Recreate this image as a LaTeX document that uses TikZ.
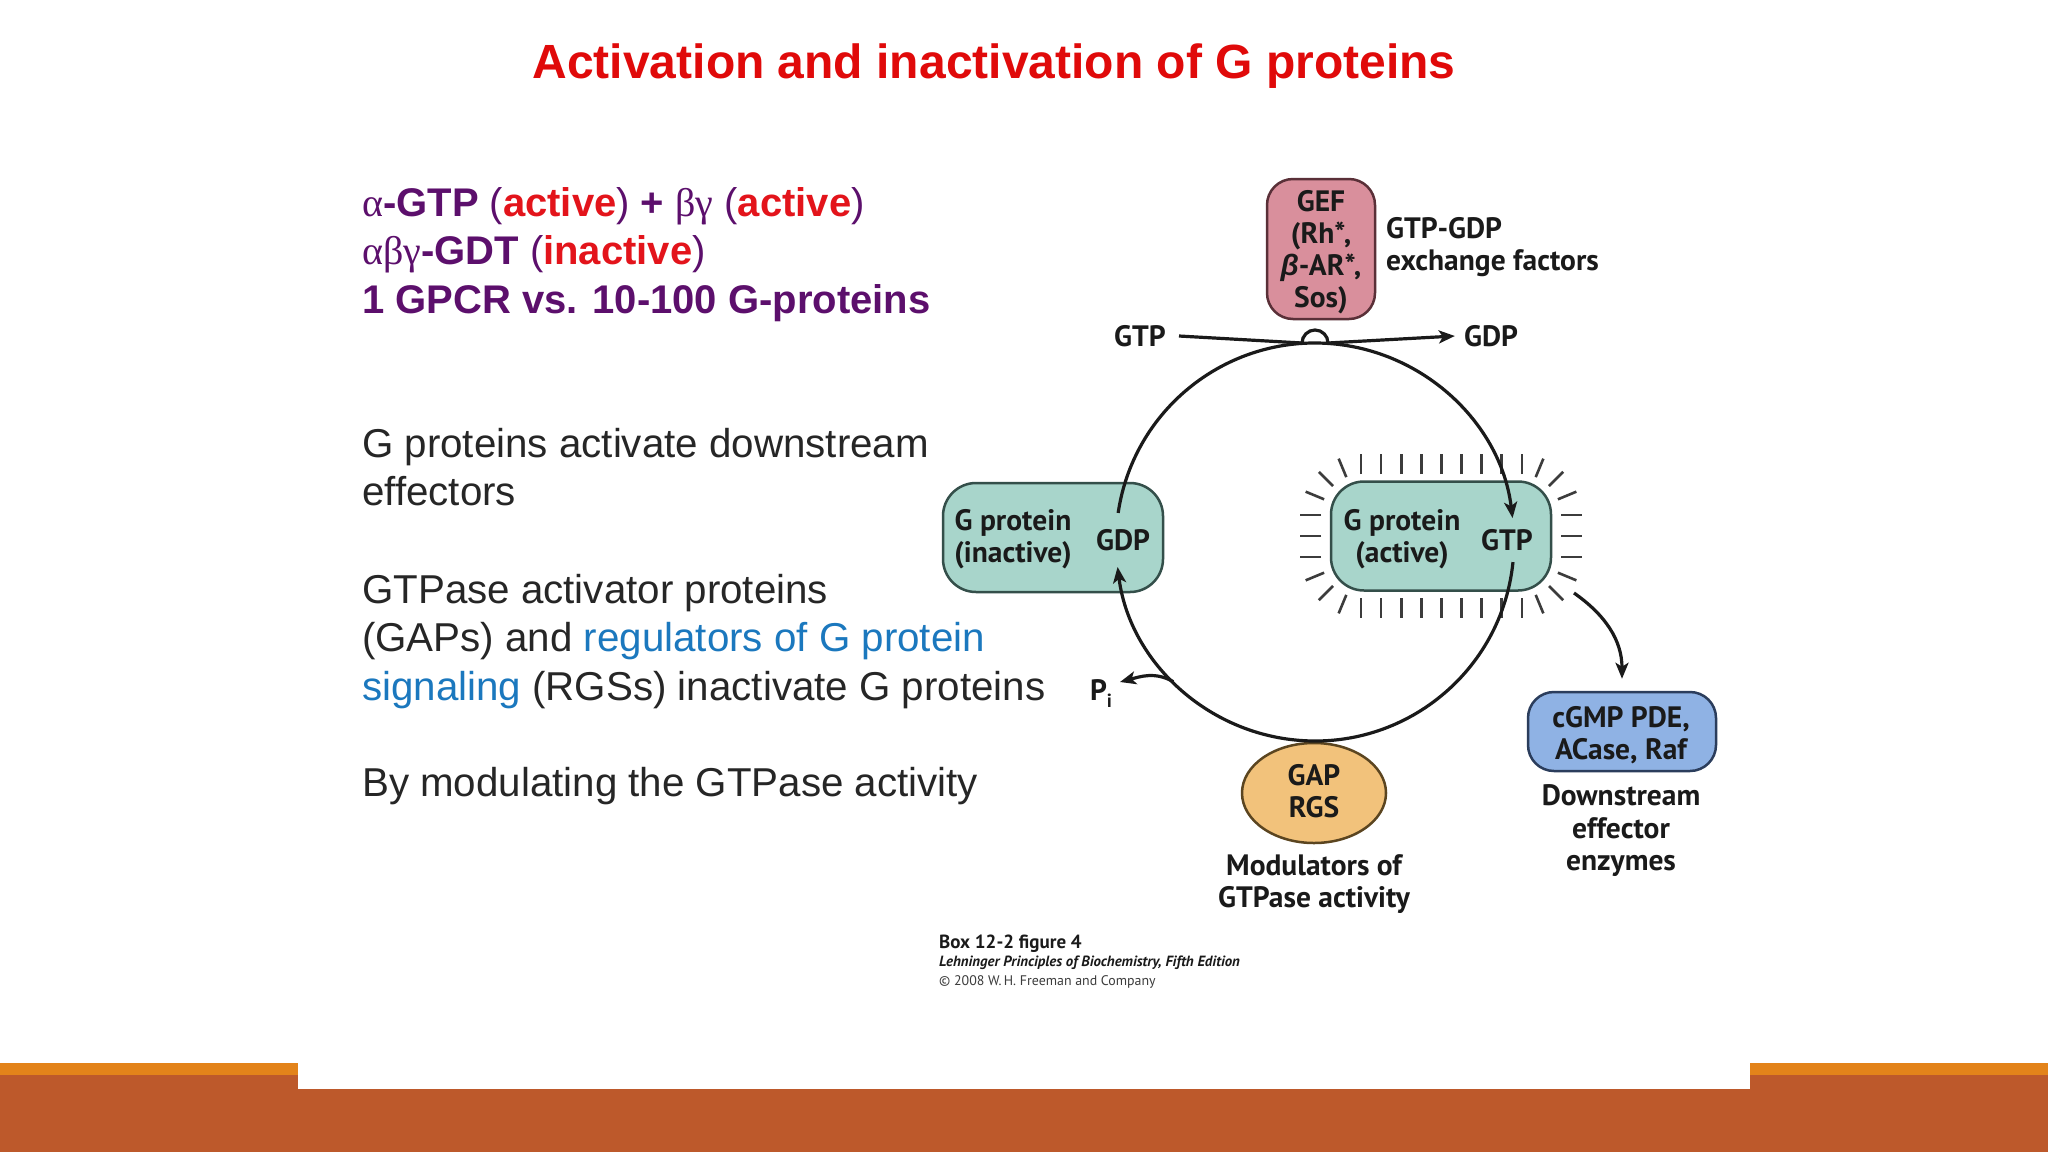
\documentclass[tikz,border=0pt]{standalone}
\usepackage{fontspec}
\setmainfont{Liberation Sans}
\newfontfamily\serifgreek{Liberation Serif}
\newfontfamily\dfont{PT Sans}
\newfontfamily\grkit{Liberation Sans}
\usetikzlibrary{arrows.meta,shapes.geometric}
\definecolor{titlered}{HTML}{E00A0A}
\definecolor{purp}{HTML}{5C0F6C}
\definecolor{actred}{HTML}{E3141B}
\definecolor{bodygray}{HTML}{262626}
\definecolor{rgsblue}{HTML}{1B78BE}
\definecolor{tealfill}{HTML}{A8D5CB}
\definecolor{tealline}{HTML}{344F4A}
\definecolor{pinkfill}{HTML}{D98F9C}
\definecolor{pinkline}{HTML}{5A3038}
\definecolor{bluefill}{HTML}{8FB2E4}
\definecolor{blueline}{HTML}{2B3D5C}
\definecolor{gapfill}{HTML}{F2C27B}
\definecolor{gapline}{HTML}{5B4520}
\definecolor{barorange}{HTML}{E3831A}
\definecolor{barbrown}{HTML}{BD592B}
\definecolor{ink}{HTML}{1A1A1A}
\newcommand{\pparen}[1]{{\mdseries(}#1{\mdseries)}}
\begin{document}
\begin{tikzpicture}[x=1pt,y=1pt,
  facts/.style={anchor=base west, inner sep=0pt, text=purp, font=\bfseries\fontsize{40}{48}\selectfont},
  body/.style={anchor=base west, inner sep=0pt, text=bodygray, font=\fontsize{40.3}{48}\selectfont},
  dlabel/.style={inner sep=0pt, text=ink, align=center, font=\dfont\bfseries\fontsize{29.5}{32.5}\selectfont},
  gbox/.style={draw=tealline, fill=tealfill, line width=2.5pt, rounded corners=33pt, minimum width=220pt, minimum height=109pt, inner sep=0pt},
  ray/.style={draw=ink!85, line width=2.6pt},
  arr/.style={draw=ink, line width=3.2pt, -{Stealth[length=16pt,width=13pt,inset=4pt]}}
]
\useasboundingbox (0,0) rectangle (2048,-1152);
\fill[white] (0,0) rectangle (2048,-1152);

% bottom bars
\fill[barorange] (0,-1063) rectangle (298,-1075);
\fill[barbrown] (0,-1075) rectangle (298,-1152);
\fill[barorange] (1750,-1063) rectangle (2048,-1075);
\fill[barbrown] (1750,-1075) rectangle (2048,-1152);
\fill[barbrown] (298,-1089) rectangle (1750,-1152);

% title
\node[anchor=base, inner sep=0pt, text=titlered, font=\bfseries\fontsize{48}{58}\selectfont] (title) at (994,-78) {Activation and inactivation of G proteins};

% left facts
\node[facts] (f1) at (362,-216) {{\serifgreek\mdseries α}-GTP \pparen{\textcolor{actred}{active}} + {\serifgreek\mdseries βγ} \pparen{\textcolor{actred}{active}}};
\node[facts] (f2) at (362,-264) {{\serifgreek\mdseries αβγ}-GDT \pparen{\textcolor{actred}{inactive}}};
\node[facts] (f3) at (362,-313) {1 GPCR vs. 10-100 G-proteins};

% body text
\node[body] (b1) at (362,-457) {G proteins activate downstream};
\node[body] (b2) at (362,-505) {effectors};
\node[body] (b3) at (362,-603) {GTPase activator proteins};
\node[body] (b4) at (362,-651) {(GAPs) and \textcolor{rgsblue}{regulators of G protein}};
\node[body] (b5) at (362,-700) {\textcolor{rgsblue}{signaling} (RGSs) inactivate G proteins};
\node[body] (b6) at (362,-796) {By modulating the GTPase activity};

% cycle centre
\coordinate (cyc) at (1315,-542);

% GEF
\node[draw=pinkline, fill=pinkfill, line width=2.5pt, rounded corners=26pt, minimum width=108pt, minimum height=140pt, inner sep=0pt] (gef) at (1321,-249) {};
\node[dlabel, font=\dfont\bfseries\fontsize{29.5}{32}\selectfont] (geftxt) at (1321,-252) {GEF\\(Rh*,\\{\grkit\bfseries\itshape β}-AR*,\\Sos)};
\node[dlabel, align=left, anchor=west] (gefnote) at (1386,-247) {GTP-GDP\\exchange factors};

\node[dlabel] (gtpL) at (1140,-336) {GTP};
\node[dlabel] (gdpL) at (1491,-336) {GDP};

% G protein boxes
\node[gbox] (inact) at (1053,-537.5) {};
\node[dlabel] (inactLbl) at (1013,-539) {G protein\\(inactive)};
\node[dlabel] (inactGDP) at (1123,-540) {GDP};

\node[gbox] (act) at (1441,-536) {};
\node[dlabel] (actLbl) at (1402,-539) {G protein\\(active)};
\node[dlabel] (actGTP) at (1507,-540) {GTP};

% rays around active G protein
\foreach \i in {0,...,8} {
  \draw[ray] ({1361+\i*20.1},-474) -- ++(0,20);
  \draw[ray] ({1361+\i*20.1},-598) -- ++(0,-20);
}
\foreach \yy in {515,536,557} {
  \draw[ray] (1321,-\yy) -- ++(-21,0);
  \draw[ray] (1561,-\yy) -- ++(21,0);
}
\foreach \a in {112.5,135,157.5} \draw[ray] (1362,-515) ++(\a:41) -- ++(\a:20);
\foreach \a in {22.5,45,67.5} \draw[ray] (1520,-515) ++(\a:41) -- ++(\a:20);
\foreach \a in {-22.5,-45,-67.5} \draw[ray] (1520,-557) ++(\a:41) -- ++(\a:20);
\foreach \a in {202.5,225,247.5} \draw[ray] (1362,-557) ++(\a:41) -- ++(\a:20);

% GAP
\node[ellipse, draw=gapline, fill=gapfill, line width=2.5pt, minimum width=144pt, minimum height=100pt, inner sep=0pt] (gap) at (1314,-793) {};
\node[dlabel] (gaptxt) at (1314,-791) {GAP\\RGS};
\node[dlabel] (modtxt) at (1314,-884) {Modulators of\\GTPase activity};

% effector
\node[draw=blueline, fill=bluefill, line width=2.5pt, rounded corners=26pt, minimum width=188pt, minimum height=79pt, inner sep=0pt] (cgmp) at (1622,-731.5) {};
\node[dlabel] (cgmptxt) at (1621,-735) {cGMP PDE,\\ACase, Raf};
\node[dlabel] (downtxt) at (1621,-831) {Downstream\\effector\\enzymes};

% Pi
\node[dlabel] (pi) at (1101,-694) {P\raisebox{-7pt}{\fontsize{19}{19}\selectfont i}};
\coordinate (piend) at (1120,-682);
\coordinate (effstart) at (1574,-593);

% cycle arcs
\draw[arr] ([shift={(171.6:199)}]cyc) arc[start angle=171.6, end angle=6.9, radius=199];
\draw[arr] ([shift={(-5.8:199)}]cyc) arc[start angle=-5.8, end angle=-172.8, radius=199];
\draw[arr] ([shift={(224.6:199)}]cyc) to[out=150,in=15] (piend);
\draw[arr] (effstart) to[out=-35,in=90] ([yshift=12pt]cgmp.north);
\draw[arr] ([xshift=13pt]gtpL.east) -- (1302,-343) arc[start angle=180, end angle=0, radius=13] -- ([xshift=-9pt]gdpL.west);

% caption
\node[anchor=base west, inner sep=0pt, text=ink, font=\dfont\bfseries\fontsize{19}{22}\selectfont] (cap1) at (939,-948) {Box 12-2 figure 4};
\node[anchor=base west, inner sep=0pt, text=ink, font=\dfont\bfseries\itshape\fontsize{14.8}{17}\selectfont] (cap2) at (939,-966) {Lehninger Principles of Biochemistry, Fifth Edition};
\node[anchor=base west, inner sep=0pt, text=ink!85, font=\dfont\fontsize{13.9}{16}\selectfont] (cap3) at (939,-985) {© 2008 W.\,H. Freeman and Company};
\end{tikzpicture}
\end{document}
